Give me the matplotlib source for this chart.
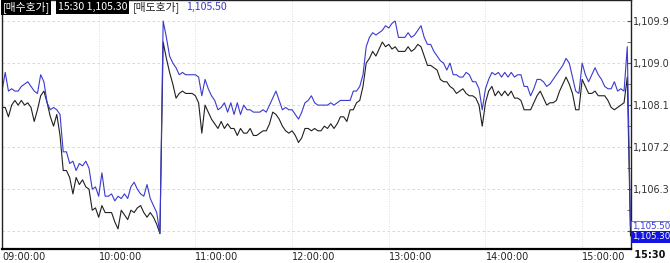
import numpy as np
import pandas as pd
import matplotlib
matplotlib.use("Agg")
import matplotlib.pyplot as plt
import matplotlib.dates as mdates

# 2-minute samples, 09:00 .. 15:30
times = pd.date_range("2020-06-01 09:00", "2020-06-01 15:30", freq="2min")

# 매도호가 (ask, blue)
ask = [
    1108.40, 1108.80, 1108.40, 1108.45, 1108.40, 1108.40, 1108.50, 1108.55, 1108.60, 1108.50,
    1108.40, 1108.35, 1108.75, 1108.60, 1108.15, 1108.00, 1108.05, 1108.00, 1107.90, 1107.10,
    1107.10, 1106.85, 1106.90, 1106.70, 1106.85, 1106.80, 1106.90, 1106.75, 1106.30, 1106.35,
    1106.15, 1106.65, 1106.15, 1106.15, 1106.20, 1106.05, 1106.15, 1106.10, 1106.20, 1106.10,
    1106.35, 1106.45, 1106.30, 1106.20, 1106.15, 1106.40, 1106.10, 1105.95, 1105.80, 1105.35,
    1109.90, 1109.55, 1109.15, 1109.00, 1108.90, 1108.75, 1108.80, 1108.75, 1108.75, 1108.75,
    1108.75, 1108.70, 1108.30, 1108.65, 1108.45, 1108.30, 1108.20, 1108.00, 1108.05, 1108.15,
    1107.95, 1108.15, 1107.90, 1108.15, 1107.90, 1108.10, 1108.00, 1108.00, 1107.95, 1107.95,
    1107.95, 1108.00, 1107.95, 1108.10, 1108.25, 1108.40, 1108.20, 1108.00, 1108.05, 1108.00,
    1108.00, 1107.90, 1107.80, 1107.95, 1108.15, 1108.20, 1108.30, 1108.15, 1108.10, 1108.10,
    1108.10, 1108.10, 1108.15, 1108.10, 1108.15, 1108.20, 1108.20, 1108.20, 1108.20, 1108.40,
    1108.40, 1108.50, 1108.75, 1109.35, 1109.55, 1109.65, 1109.60, 1109.65, 1109.70, 1109.80,
    1109.75, 1109.85, 1109.90, 1109.55, 1109.55, 1109.55, 1109.65, 1109.55, 1109.60, 1109.70,
    1109.80, 1109.55, 1109.40, 1109.40, 1109.25, 1109.15, 1109.05, 1109.00, 1108.85, 1109.00,
    1108.75, 1108.75, 1108.70, 1108.70, 1108.80, 1108.75, 1108.60, 1108.60, 1108.45, 1108.00,
    1108.45, 1108.65, 1108.80, 1108.75, 1108.80, 1108.70, 1108.80, 1108.70, 1108.80, 1108.70,
    1108.75, 1108.75, 1108.50, 1108.50, 1108.30, 1108.45, 1108.65, 1108.65, 1108.60, 1108.50,
    1108.55, 1108.65, 1108.75, 1108.85, 1108.95, 1109.10, 1109.00, 1108.70, 1108.40, 1108.35,
    1109.00, 1108.75, 1108.60, 1108.75, 1108.90, 1108.75, 1108.65, 1108.50, 1108.45, 1108.45,
    1108.60, 1108.40, 1108.45, 1108.40, 1109.35, 1105.50,
]

# 매수호가 (bid, black)
bid = [
    1108.05, 1108.05, 1107.85, 1108.10, 1108.20, 1108.10, 1108.20, 1108.10, 1108.15, 1108.05,
    1107.75, 1108.00, 1108.30, 1108.40, 1108.15, 1107.85, 1107.65, 1107.90, 1107.45, 1106.70,
    1106.70, 1106.55, 1106.20, 1106.55, 1106.40, 1106.50, 1106.35, 1106.30, 1105.85, 1105.90,
    1105.70, 1105.95, 1105.80, 1105.80, 1105.80, 1105.60, 1105.45, 1105.85, 1105.75, 1105.65,
    1105.85, 1105.80, 1105.90, 1105.95, 1105.80, 1105.70, 1105.80, 1105.70, 1105.55, 1105.35,
    1109.45, 1109.10, 1108.80, 1108.55, 1108.25, 1108.35, 1108.40, 1108.35, 1108.35, 1108.35,
    1108.30, 1108.15, 1107.50, 1108.10, 1107.95, 1107.80, 1107.70, 1107.60, 1107.75, 1107.60,
    1107.70, 1107.60, 1107.60, 1107.45, 1107.60, 1107.50, 1107.50, 1107.60, 1107.45, 1107.45,
    1107.50, 1107.55, 1107.55, 1107.70, 1107.95, 1107.90, 1107.80, 1107.65, 1107.55, 1107.50,
    1107.55, 1107.45, 1107.30, 1107.40, 1107.60, 1107.60, 1107.55, 1107.60, 1107.55, 1107.55,
    1107.65, 1107.60, 1107.70, 1107.60, 1107.70, 1107.85, 1107.85, 1107.75, 1108.00, 1108.00,
    1108.15, 1108.20, 1108.50, 1109.00, 1109.10, 1109.25, 1109.15, 1109.30, 1109.45, 1109.35,
    1109.40, 1109.30, 1109.35, 1109.25, 1109.25, 1109.25, 1109.35, 1109.25, 1109.30, 1109.40,
    1109.35, 1109.15, 1108.95, 1108.95, 1108.90, 1108.85, 1108.65, 1108.60, 1108.60, 1108.50,
    1108.45, 1108.35, 1108.40, 1108.45, 1108.35, 1108.30, 1108.30, 1108.25, 1108.10, 1107.65,
    1108.15, 1108.40, 1108.50, 1108.30, 1108.40, 1108.30, 1108.40, 1108.30, 1108.40, 1108.25,
    1108.25, 1108.20, 1108.00, 1108.00, 1108.00, 1108.15, 1108.30, 1108.40, 1108.25, 1108.10,
    1108.15, 1108.15, 1108.20, 1108.40, 1108.55, 1108.70, 1108.55, 1108.35, 1108.00, 1108.00,
    1108.65, 1108.50, 1108.35, 1108.35, 1108.40, 1108.30, 1108.30, 1108.30, 1108.20, 1108.05,
    1108.00, 1108.05, 1108.10, 1108.15, 1108.70, 1105.30,
]

# right axis grid levels
y_ticks = [1105.4, 1106.3, 1107.2, 1108.1, 1109.0, 1109.9]
last_time = "15:30"
last_bid = "1,105.30"
last_ask = "1,105.50"

BLUE = "#3a3ad0"
FONTS = ["Noto Sans CJK KR", "DejaVu Sans"]
W, H = 670, 263

fig = plt.figure(figsize=(W / 100, H / 100), dpi=100)
ax = fig.add_axes([2 / W, 14 / H, 628.5 / W, 249 / H])

ax.plot(times, bid, color="#202020", lw=0.8)
ax.plot(times, ask, color=BLUE, lw=0.8)

ax.set_xlim(times[0], times[-1])
ax.set_ylim(1105.02, 1110.22)

# x axis: hour labels left aligned on the grid line
ax.xaxis.set_major_locator(mdates.HourLocator())
ax.xaxis.set_major_formatter(mdates.DateFormatter("%H:%M:%S"))
ax.tick_params(axis="x", length=0, pad=2, labelsize=7, labelcolor="#222222")
for lbl in ax.get_xticklabels():
    lbl.set_ha("left")
ax.text(1.0, -0.005, " " + last_time, transform=ax.transAxes, ha="left", va="top",
        fontsize=7, fontweight="bold", color="#111111")

# y axis on the right
ax.yaxis.tick_right()
ax.set_yticks(y_ticks)
ax.set_yticklabels(["" if v < 1106 else f"{v:,.1f}" for v in y_ticks])
ax.set_yticks([v + 0.45 for v in y_ticks], minor=True)
ax.tick_params(axis="y", which="both", direction="in", length=3, pad=2,
               labelsize=7, labelcolor="#333333", color="#555555")

ax.grid(axis="y", color="#d2d2d2", lw=0.6, linestyle=(0, (3, 3)))
ax.grid(axis="x", color="#d2d2d2", lw=0.6, linestyle=(0, (1, 2)))

for side in ["left", "top", "right"]:
    ax.spines[side].set_linewidth(1.0)
    ax.spines[side].set_color("#222222")
ax.spines["bottom"].set_linewidth(1.6)
ax.spines["bottom"].set_color("black")

# header
def px(x, y):
    return x / W, 1 - y / H

fig.text(*px(2.5, 7), "[매수호가]", color="white", fontsize=7.8, va="center", family=FONTS,
         bbox=dict(facecolor="black", edgecolor="none", pad=1.2))
fig.text(*px(58, 7), last_time + " " + last_bid, color="white", fontsize=7.6, va="center",
         family=FONTS, bbox=dict(facecolor="black", edgecolor="none", pad=1.2))
fig.text(*px(133, 7), "[매도호가]", color="#222222", fontsize=7.8, va="center", family=FONTS)
fig.text(*px(186, 7), last_ask, color=BLUE, fontsize=7.6, va="center", family=FONTS)

# last value boxes on the right scale
fig.text(*px(632.5, 227), last_ask, color=BLUE, fontsize=6.2, va="center",
         bbox=dict(facecolor="white", edgecolor="#6060c0", lw=0.6, pad=0.8))
fig.text(*px(632.5, 237), last_bid, color="white", fontsize=6.2, va="center",
         bbox=dict(facecolor="#1414e0", edgecolor="none", pad=0.8))

fig.savefig("out.png", dpi=100)
